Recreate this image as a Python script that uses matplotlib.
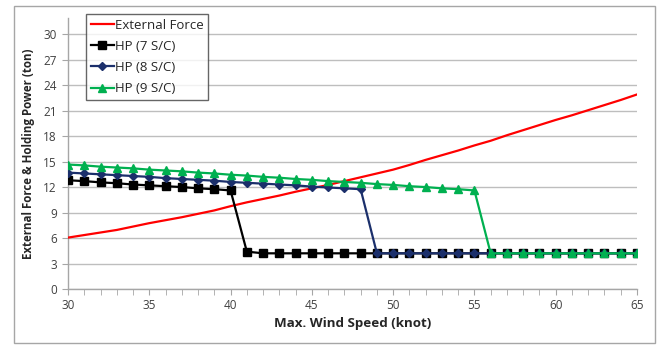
import matplotlib
matplotlib.use("Agg")
import matplotlib.pyplot as plt
from matplotlib.patches import Rectangle

knots = list(range(30, 66))
external_force = [6.05, 6.35, 6.65, 6.95, 7.35, 7.75, 8.1, 8.45, 8.85, 9.25,
                  9.75, 10.2, 10.6, 11.0, 11.45, 11.85, 12.25, 12.7, 13.15, 13.6,
                  14.05, 14.6, 15.2, 15.75, 16.3, 16.9, 17.45, 18.1, 18.7, 19.3,
                  19.9, 20.45, 21.05, 21.65, 22.25, 22.9]
hp7 = [12.8, 12.7, 12.55, 12.45, 12.3, 12.2, 12.1, 12.0, 11.85, 11.75,
       11.6, 4.4, 4.2, 4.2, 4.2, 4.2, 4.2, 4.2, 4.2, 4.2,
       4.2, 4.2, 4.2, 4.2, 4.2, 4.2, 4.2, 4.2, 4.2, 4.2,
       4.2, 4.2, 4.2, 4.2, 4.2, 4.2]
hp8 = [13.7, 13.6, 13.5, 13.4, 13.3, 13.2, 13.05, 12.95, 12.85, 12.75,
       12.6, 12.5, 12.4, 12.3, 12.2, 12.05, 11.95, 11.85, 11.75, 4.2,
       4.2, 4.2, 4.2, 4.2, 4.2, 4.2, 4.2, 4.2, 4.2, 4.2,
       4.2, 4.2, 4.2, 4.2, 4.2, 4.2]
hp9 = [14.65, 14.55, 14.4, 14.3, 14.2, 14.05, 13.95, 13.85, 13.7, 13.6,
       13.45, 13.35, 13.2, 13.1, 12.95, 12.85, 12.7, 12.6, 12.5, 12.35,
       12.25, 12.1, 12.0, 11.85, 11.75, 11.6, 4.2, 4.2, 4.2, 4.2,
       4.2, 4.2, 4.2, 4.2, 4.2, 4.2]

x_ticks = [30, 35, 40, 45, 50, 55, 60, 65]
y_ticks = [0, 3, 6, 9, 12, 15, 18, 21, 24, 27, 30]

plt.rcParams['font.family'] = ['Open Sans', 'DejaVu Sans']

fig = plt.figure(figsize=(6.57, 3.45), dpi=100)
W, H = 657, 345
ax = fig.add_axes([68 / W, 1 - 289 / H, (637 - 68) / W, (289 - 18) / H])

ax.plot(knots, external_force, color='#FF0000', lw=1.6, label='External Force', zorder=3)
ax.plot(knots, hp7, color='black', lw=1.6, marker='s', ms=6, label='HP (7 S/C)', zorder=4)
ax.plot(knots, hp8, color='#1B2F6B', lw=1.6, marker='D', ms=3.8, label='HP (8 S/C)', zorder=5)
ax.plot(knots, hp9, color='#00B050', lw=1.6, marker='^', ms=5.5, label='HP (9 S/C)', zorder=6)

ax.set_xlim(30, 65)
ax.set_ylim(0, 31.9)
ax.set_xticks(x_ticks)
ax.set_xticks(knots, minor=True)
ax.set_yticks(y_ticks)
ax.yaxis.grid(True, color='#BEBEBE', lw=1.0)
ax.set_axisbelow(True)
for s in ['top', 'right']:
    ax.spines[s].set_visible(False)
for s in ['left', 'bottom']:
    ax.spines[s].set_color('#A6A6A6')
    ax.spines[s].set_linewidth(1.0)
ax.tick_params(axis='both', which='both', colors='#A6A6A6', labelcolor='#404040', labelsize=8.5, direction='out')
ax.tick_params(axis='x', which='major', length=4, pad=3)
ax.tick_params(axis='x', which='minor', length=4)
ax.tick_params(axis='y', which='major', length=4, pad=4)

ax.set_xlabel('Max. Wind Speed (knot)', fontsize=9.6, fontweight='bold', color='#262626', labelpad=4)
ax.set_ylabel('External Force & Holding Power (ton)', fontsize=8.3, fontweight='bold', color='#262626', labelpad=6)

leg = ax.legend(loc='upper left', bbox_to_anchor=((86 - 68) / (637 - 68), 1 + 4 / 271),
                fontsize=9.5, frameon=True, fancybox=False, edgecolor='#404040',
                handlelength=1.75, handletextpad=0.1, borderpad=0.35, labelspacing=0.62,
                borderaxespad=0)
leg.get_frame().set_linewidth(1.0)
for t in leg.get_texts():
    t.set_color('#262626')

fig.patches.append(Rectangle((14 / W, 1 - 343 / H), (655 - 14) / W, (343 - 6) / H,
                             transform=fig.transFigure, fill=False,
                             edgecolor='#A6A6A6', lw=1.0))

fig.savefig('out.png', dpi=100)
